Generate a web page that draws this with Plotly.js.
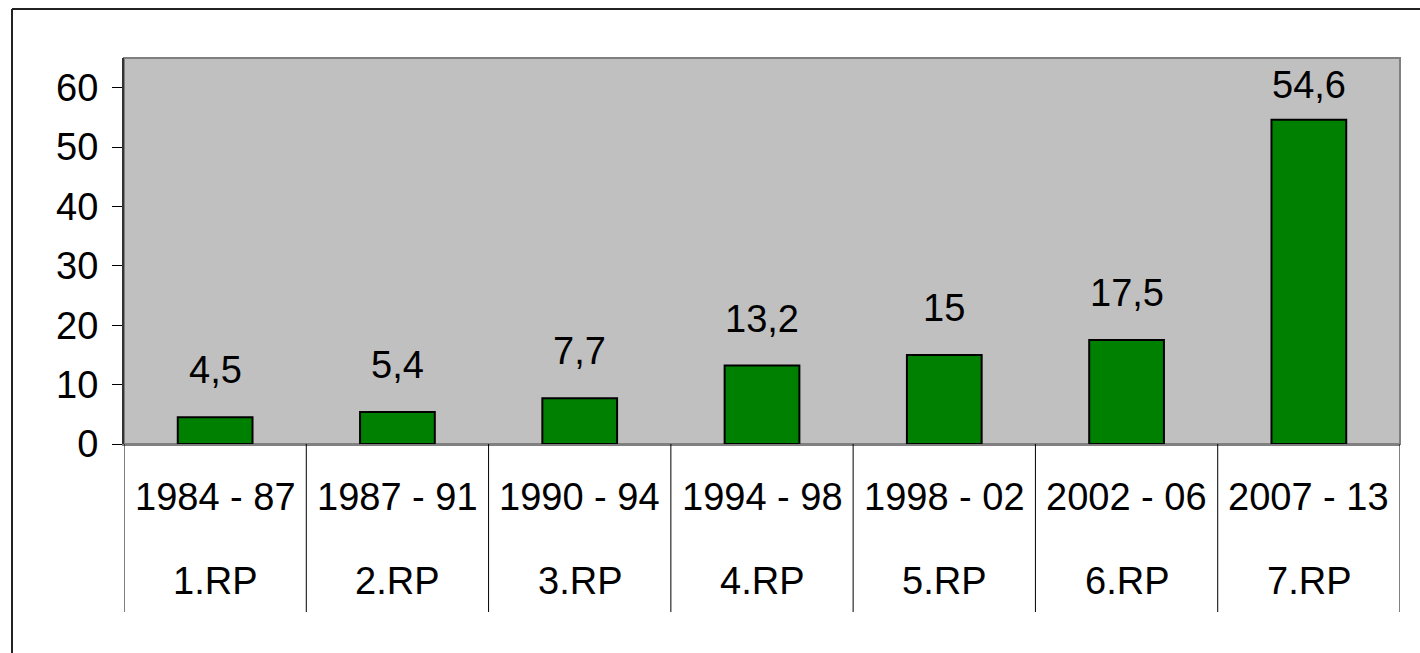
<!DOCTYPE html>
<html><head><meta charset="utf-8">
<script src="https://cdn.plot.ly/plotly-3.0.1.min.js"></script>
<style>html,body{margin:0;padding:0;background:#fff;}#chart{width:1420px;height:653px;}</style>
</head><body><div id="chart"></div>
<script>
const periods = ["1984 - 87","1987 - 91","1990 - 94","1994 - 98","1998 - 02","2002 - 06","2007 - 13"];
const programmes = ["1.RP","2.RP","3.RP","4.RP","5.RP","6.RP","7.RP"];
const values = [4.5, 5.4, 7.7, 13.2, 15, 17.5, 54.6];
const valueLabels = ["4,5","5,4","7,7","13,2","15","17,5","54,6"];

const W = 1420, H = 653;
const mL = 124, mR = 20, mT = 58, mB = 209;
const plotW = W - mL - mR, plotH = H - mT - mB;
const yMax = 65;
const ppu = plotH / yMax;
const FONT = {family: "Liberation Sans, Arial, sans-serif", size: 38, color: "#000"};

const idx = periods.map((_, i) => i);

const annotations = [];
values.forEach((v, i) => {
  const barTopPx = mT + (yMax - v) * ppu;
  const shift = Math.min(47, barTopPx - (mT + 27));
  annotations.push({x: i, y: v, xref: "x", yref: "y", text: valueLabels[i], showarrow: false,
    yanchor: "middle", yshift: shift, font: FONT});
});
periods.forEach((p, i) => {
  annotations.push({x: i, y: 0, xref: "x", yref: "paper", text: p, showarrow: false,
    yanchor: "middle", yshift: -53, font: FONT});
  annotations.push({x: i, y: 0, xref: "x", yref: "paper", text: programmes[i], showarrow: false,
    yanchor: "middle", yshift: -137, font: FONT});
});

const shapes = [];
shapes.push({type: "rect", xref: "paper", yref: "paper", x0: 0, x1: 1, y0: 0, y1: 1,
  line: {color: "#808080", width: 2}, layer: "below"});
for (let i = 0; i <= periods.length; i++) {
  shapes.push({type: "line", xref: "x", yref: "paper", x0: i - 0.5, x1: i - 0.5,
    y0: 0, y1: -(612 - (H - mB)) / plotH, line: {color: "#000", width: 1}});
}
const bx = (12 - mL) / plotW, by = 1 + (mT - 9) / plotH, bBot = -(H - (H - mB) + 5) / plotH, bRight = (W + 5 - mL) / plotW;
shapes.push({type: "line", xref: "paper", yref: "paper", x0: bx, x1: bx, y0: bBot, y1: by, line: {color: "#222", width: 2}});
shapes.push({type: "line", xref: "paper", yref: "paper", x0: bx, x1: bRight, y0: by, y1: by, line: {color: "#222", width: 2}});

const trace = {
  type: "bar", x: idx, y: values,
  marker: {color: "#008000", line: {color: "#000", width: 2}},
  width: 0.41, hoverinfo: "none"
};

const layout = {
  width: W, height: H,
  margin: {l: mL, r: mR, t: mT, b: mB, pad: 0},
  paper_bgcolor: "#fff", plot_bgcolor: "#C0C0C0",
  showlegend: false,
  xaxis: {range: [-0.5, periods.length - 0.5], showticklabels: false, ticks: "", showgrid: false,
    zeroline: false, showline: true, linecolor: "#808080", linewidth: 2, fixedrange: true},
  yaxis: {range: [0, yMax], dtick: 10, tick0: 0, ticks: "outside", ticklen: 10, tickcolor: "#000",
    tickwidth: 1, showgrid: false, zeroline: false, showline: true, linecolor: "#333", linewidth: 2,
    tickfont: FONT, ticklabelstandoff: 6, fixedrange: true},
  annotations: annotations,
  shapes: shapes
};

Plotly.newPlot("chart", [trace], layout, {displayModeBar: false, staticPlot: true});
</script>
</body></html>
